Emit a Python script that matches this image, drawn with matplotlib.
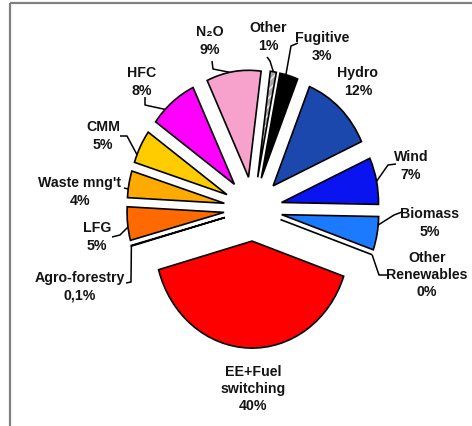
import numpy as np
import matplotlib
matplotlib.use("Agg")
import matplotlib.pyplot as plt
from matplotlib.patches import Rectangle, Wedge

# Shares of the project pipeline by type (percent), clockwise from the top
categories = ["Hydro", "Wind", "Biomass", "Other\nRenewables", "EE+Fuel\nswitching",
              "Agro-forestry", "LFG", "Waste mng't", "CMM", "HFC", "N\u2082O", "Other", "Fugitive"]
values = [12, 7, 5, 0, 40, 0.1, 5, 4, 5, 8, 9, 1, 3]
pct_labels = ["12%", "7%", "5%", "0%", "40%", "0,1%", "5%", "4%", "5%", "8%", "9%", "1%", "3%"]
colors = ["#1a48ac", "#0a14f0", "#1c7aff", "#000060", "#ff0000", "#ffffff", "#ff6a00",
          "#ffaa00", "#ffcc00", "#ff00ff", "#f7a2cc", "#a8a8a8", "#000000"]

W, H = 472, 427
fig = plt.figure(figsize=(W / 100, H / 100), dpi=100)

# Overlay axes in pixel units (y downward) for the frame, labels and leaders
lab = fig.add_axes([0, 0, 1, 1])
lab.set_xlim(0, W)
lab.set_ylim(H, 0)
lab.axis("off")
lab.add_patch(Rectangle((10, 4), 480, 440, fill=False, edgecolor="#808080", lw=1.6))

# Pie axes: slightly taller than wide
cx, cy = 253, 210
ux, uy = 97, 107
lim = 1.6
pie_ax = fig.add_axes([(cx - lim * ux) / W, (H - cy - lim * uy) / H,
                       2 * lim * ux / W, 2 * lim * uy / H])
wedges, _ = pie_ax.pie(values, colors=colors, explode=[0.3] * len(values),
                       startangle=68, counterclock=False, radius=1,
                       wedgeprops=dict(edgecolor="black", linewidth=1.2))
pie_ax.set_xlim(-lim, lim)
pie_ax.set_ylim(-lim, lim)
pie_ax.set_aspect("auto")
pie_ax.axis("off")

# Striped "Other" slice with a black outline on top
other = wedges[11]
other.set_edgecolor("#eeeeee")
other.set_hatch("////")
other.set_linewidth(0)
pie_ax.add_patch(Wedge(other.center, other.r, other.theta1, other.theta2,
                       fill=False, edgecolor="black", lw=1.2))

to_px = lambda p: lab.transData.inverted().transform(pie_ax.transData.transform(p))


def arc_point(w, t):
    ang = np.deg2rad(w.theta1 + t * (w.theta2 - w.theta1))
    x, y = w.center
    return to_px((x + w.r * np.cos(ang), y + w.r * np.sin(ang)))


# label position (px), leader start points (px), attach fraction along the arc
layout = {
    0: ((358, 82), None, 0.5),
    1: ((411, 166), [(396, 165), (388, 166)], 0.49),
    2: ((430, 223), [(402, 213), (394, 216)], 0.75),
    3: ((427, 275), [(388, 276), (379, 276)], 0.0),
    4: ((253, 389), None, 0.5),
    5: ((80, 287), [(126, 284), (131, 283)], 0.5),
    6: ((97, 237), [(112, 238), (120, 236)], 0.6),
    7: ((80, 192), [(124, 189)], 0.68),
    8: ((103, 136), [(120, 137), (127, 137)], 0.76),
    9: ((142, 82), [(145, 98), (145, 106)], 0.7),
    10: ((210, 41), [(212, 62), (213, 70)], 0.57),
    11: ((268, 37), [(267, 58), (270, 62)], 0.5),
    12: ((322, 47), [(298, 44), (291, 47)], 0.67),
}

font = dict(family=["Liberation Sans", "DejaVu Sans"], weight="bold", size=10.2)
for i, ((tx, ty), pts, t) in layout.items():
    lab.text(tx, ty, f"{categories[i]}\n{pct_labels[i]}", ha="center", va="center",
             linespacing=1.3, color="#141414", **font)
    if pts:
        end = arc_point(wedges[i], t)
        xs = [p[0] for p in pts] + [end[0]]
        ys = [p[1] for p in pts] + [end[1]]
        lab.plot(xs, ys, color="black", lw=1.1, solid_capstyle="butt")

fig.savefig("out.png", dpi=100)
